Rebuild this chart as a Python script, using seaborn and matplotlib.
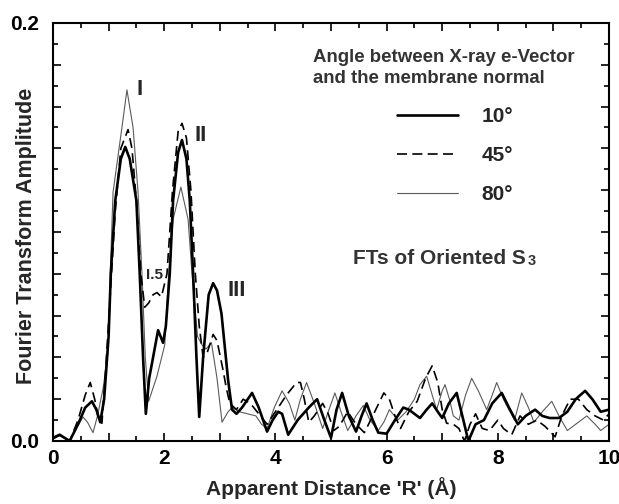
import matplotlib
matplotlib.use("Agg")
import matplotlib.pyplot as plt
from matplotlib.ticker import MultipleLocator, FuncFormatter
import numpy as np
import pandas as pd
import seaborn as sns

# Fourier transform amplitude vs apparent distance R (Å) for three orientations
r_10 = [0.0, 0.12, 0.3, 0.45, 0.58, 0.7, 0.78, 0.85, 0.92, 1.0, 1.04, 1.12, 1.22, 1.3,
        1.38, 1.5, 1.56, 1.62, 1.67, 1.73, 1.8, 1.89, 1.98, 2.03, 2.1, 2.16, 2.25, 2.32,
        2.4, 2.46, 2.52, 2.58, 2.63, 2.7, 2.8, 2.88, 2.95, 3.03, 3.15, 3.22, 3.3, 3.4,
        3.58, 3.7, 3.85, 3.95, 4.05, 4.12, 4.23, 4.4, 4.6, 4.75, 4.88, 5.0, 5.1, 5.2,
        5.32, 5.45, 5.55, 5.64, 5.75, 5.85, 6.0, 6.15, 6.3, 6.4, 6.6, 6.72, 6.82, 6.92,
        7.0, 7.12, 7.26, 7.38, 7.47, 7.6, 7.75, 7.9, 8.07, 8.2, 8.36, 8.5, 8.67, 8.8,
        8.93, 9.1, 9.25, 9.4, 9.57, 9.7, 9.85, 10.0]
amp_10 = [0.0015, 0.003, 0.0, 0.008, 0.016, 0.019, 0.015, 0.009, 0.02, 0.05, 0.08, 0.115,
          0.135, 0.1407, 0.135, 0.115, 0.08, 0.04, 0.013, 0.03, 0.04, 0.053, 0.047, 0.055,
          0.08, 0.115, 0.138, 0.144, 0.135, 0.115, 0.08, 0.04, 0.0115, 0.04, 0.07, 0.0755,
          0.072, 0.061, 0.029, 0.015, 0.013, 0.016, 0.023, 0.016, 0.0045, 0.01, 0.014,
          0.013, 0.003, 0.01, 0.016, 0.02, 0.01, 0.0015, 0.015, 0.023, 0.012, 0.0045,
          0.012, 0.018, 0.01, 0.004, 0.0035, 0.01, 0.016, 0.015, 0.011, 0.015, 0.018,
          0.014, 0.011, 0.018, 0.023, 0.01, 0.0, 0.008, 0.01, 0.018, 0.023, 0.016, 0.008,
          0.012, 0.015, 0.012, 0.011, 0.011, 0.014, 0.02, 0.024, 0.02, 0.014, 0.015]

r_45 = [0.0, 0.12, 0.3, 0.45, 0.58, 0.67, 0.75, 0.82, 0.88, 0.95, 1.03, 1.12, 1.22, 1.35,
        1.42, 1.5, 1.58, 1.65, 1.72, 1.8, 1.87, 1.95, 2.05, 2.15, 2.25, 2.32, 2.4, 2.48,
        2.56, 2.63, 2.7, 2.77, 2.88, 2.95, 3.05, 3.12, 3.18, 3.3, 3.42, 3.55, 3.7, 3.85,
        4.0, 4.2, 4.38, 4.45, 4.52, 4.6, 4.7, 4.85, 4.95, 5.05, 5.15, 5.3, 5.45, 5.6,
        5.75, 5.95, 6.05, 6.15, 6.25, 6.4, 6.55, 6.7, 6.82, 6.92, 7.0, 7.08, 7.2, 7.3,
        7.4, 7.5, 7.6, 7.72, 7.85, 8.0, 8.1, 8.25, 8.4, 8.55, 8.7, 8.85, 9.03, 9.15,
        9.3, 9.45, 9.6, 9.75, 9.9, 10.0]
amp_45 = [0.001, 0.003, 0.0, 0.01, 0.022, 0.028, 0.02, 0.01, 0.0085, 0.035, 0.07, 0.11,
          0.14, 0.149, 0.14, 0.115, 0.08, 0.064, 0.066, 0.07, 0.071, 0.069, 0.08, 0.12,
          0.148, 0.152, 0.145, 0.12, 0.08, 0.055, 0.04, 0.042, 0.051, 0.048, 0.035, 0.025,
          0.018, 0.015, 0.02, 0.018, 0.013, 0.008, 0.014, 0.022, 0.028, 0.028, 0.02, 0.009,
          0.012, 0.018, 0.013, 0.005, 0.007, 0.014, 0.008, 0.004, 0.012, 0.023, 0.02,
          0.012, 0.006, 0.014, 0.019, 0.03, 0.036, 0.028, 0.015, 0.0085, 0.008, 0.006,
          0.0, 0.008, 0.013, 0.006, 0.005, 0.01, 0.006, 0.003, 0.012, 0.008, 0.01, 0.007,
          0.002, 0.012, 0.02, 0.02, 0.015, 0.012, 0.01, 0.013]

r_80 = [0.0, 0.12, 0.3, 0.42, 0.54, 0.62, 0.72, 0.8, 0.9, 0.99, 1.03, 1.08, 1.24, 1.33,
        1.44, 1.53, 1.6, 1.66, 1.72, 1.87, 2.01, 2.08, 2.16, 2.3, 2.43, 2.5, 2.6, 2.68,
        2.75, 2.85, 2.95, 3.04, 3.15, 3.22, 3.35, 3.5, 3.65, 3.75, 3.85, 3.98, 4.12, 4.25,
        4.35, 4.45, 4.56, 4.7, 4.85, 4.95, 5.07, 5.18, 5.3, 5.45, 5.58, 5.7, 5.85, 5.95,
        6.05, 6.2, 6.35, 6.5, 6.6, 6.72, 6.82, 6.9, 7.0, 7.05, 7.13, 7.2, 7.3, 7.42, 7.53,
        7.65, 7.8, 7.9, 7.98, 8.1, 8.3, 8.43, 8.55, 8.65, 8.8, 8.97, 9.1, 9.25, 9.4, 9.6,
        9.75, 9.85, 10.0]
amp_80 = [0.001, 0.0025, 0.0, 0.006, 0.0115, 0.009, 0.004, 0.012, 0.025, 0.042, 0.08, 0.119,
          0.15, 0.168, 0.15, 0.119, 0.08, 0.04, 0.019, 0.031, 0.046, 0.08, 0.106, 0.1215,
          0.106, 0.08, 0.05, 0.046, 0.044, 0.047, 0.03, 0.009, 0.014, 0.016, 0.014, 0.013,
          0.012, 0.008, 0.006, 0.016, 0.024, 0.018, 0.01, 0.02, 0.028, 0.018, 0.006, 0.014,
          0.023, 0.014, 0.005, 0.012, 0.017, 0.01, 0.005, 0.009, 0.015, 0.01, 0.014, 0.02,
          0.027, 0.031, 0.022, 0.015, 0.024, 0.027, 0.02, 0.012, 0.01, 0.022, 0.03, 0.024,
          0.015, 0.022, 0.028, 0.02, 0.01, 0.023, 0.016, 0.009, 0.014, 0.019, 0.012, 0.005,
          0.008, 0.012, 0.008, 0.005, 0.008]

angle_labels = ["10°", "45°", "80°"]
peak_labels = ["I", "II", "III"]

series = {
    "10°": (r_10, amp_10),
    "45°": (r_45, amp_45),
    "80°": (r_80, amp_80),
}
styles = {
    "10°": dict(color="black", linewidth=1.9, linestyle="-"),
    "45°": dict(color="black", linewidth=1.2, linestyle=(0, (6, 3.2))),
    "80°": dict(color="#5a5a5a", linewidth=0.8, linestyle="-"),
}

sns.set_style("ticks")
plt.rcParams["font.family"] = ["Liberation Sans", "DejaVu Sans"]
plt.rcParams["font.weight"] = "bold"

fig = plt.figure(figsize=(6.19, 5.04), dpi=100)
ax = fig.add_axes([0.0856, 0.125, 0.8983, 0.8294])

handles = {}
for name in ["80°", "45°", "10°"]:
    r, a = series[name]
    df = pd.DataFrame({"R": r, "amp": a})
    sns.lineplot(data=df, x="R", y="amp", ax=ax, estimator=None, sort=False,
                 label=name, **styles[name])
    handles[name] = ax.lines[-1]
if ax.get_legend() is not None:
    ax.get_legend().remove()

ax.set_xlim(0, 10)
ax.set_ylim(0, 0.2)

ax.xaxis.set_major_locator(MultipleLocator(1))
ax.xaxis.set_minor_locator(MultipleLocator(0.5))
ax.xaxis.set_major_formatter(FuncFormatter(
    lambda v, p: f"{int(round(v))}" if int(round(v)) % 2 == 0 else ""))
ax.yaxis.set_major_locator(MultipleLocator(0.02))
ax.yaxis.set_minor_locator(MultipleLocator(0.01))
ax.yaxis.set_major_formatter(FuncFormatter(
    lambda v, p: "0.0" if abs(v) < 1e-9 else ("0.2" if abs(v - 0.2) < 1e-9 else "")))

ax.tick_params(which="both", direction="in", top=True, right=True, width=1.2,
               labelsize=15, colors="black")
ax.tick_params(which="major", length=6)
ax.tick_params(which="minor", length=3.5)
ax.tick_params(axis="x", which="major", pad=6)
ax.tick_params(axis="y", which="major", pad=10)
for lab in ax.get_xticklabels() + ax.get_yticklabels():
    lab.set_fontweight("bold")
for sp in ax.spines.values():
    sp.set_linewidth(1.5)
    sp.set_color("black")

ax.set_xlabel("Apparent Distance 'R' (Å)", fontsize=15, fontweight="bold", labelpad=6)
ax.set_ylabel("Fourier Transform Amplitude", fontsize=15.5, fontweight="bold")
ax.yaxis.set_label_coords(-0.029, 0.49)

# peak annotations
peak_pos = [(1.565, 0.168), (2.66, 0.146), (3.31, 0.0722)]
for txt, (x, y) in zip(peak_labels, peak_pos):
    ax.text(x, y, txt, fontsize=16, fontweight="bold", ha="center", va="center")
ax.text(1.83, 0.0794, "I.5", fontsize=11, fontweight="bold", ha="center", va="center")

# legend block
ax.text(4.68, 0.1837, "Angle between X-ray e-Vector", fontsize=13.4, fontweight="bold",
        color="#333333", ha="left", va="center")
ax.text(4.68, 0.1732, "and the membrane normal", fontsize=13.4, fontweight="bold",
        color="#333333", ha="left", va="center")
leg = ax.legend([handles[n] for n in angle_labels], angle_labels, loc="upper left",
                bbox_to_anchor=(397 / 619, (504 - 107) / 504),
                bbox_transform=fig.transFigure, frameon=False, borderpad=0,
                borderaxespad=0, handlelength=2.95, handletextpad=1.1, labelspacing=0.96,
                prop=dict(size=15, weight="bold"))

t = ax.text(5.4, 0.0875, "FTs of Oriented S", fontsize=15, fontweight="bold",
            color="#333333", ha="left", va="center")
ax.annotate("3", xy=(1, 0), xycoords=t, xytext=(1, 0), textcoords="offset points",
            fontsize=10.5, fontweight="bold", color="#333333", ha="left", va="bottom")

fig.savefig("out.png", dpi=100)
